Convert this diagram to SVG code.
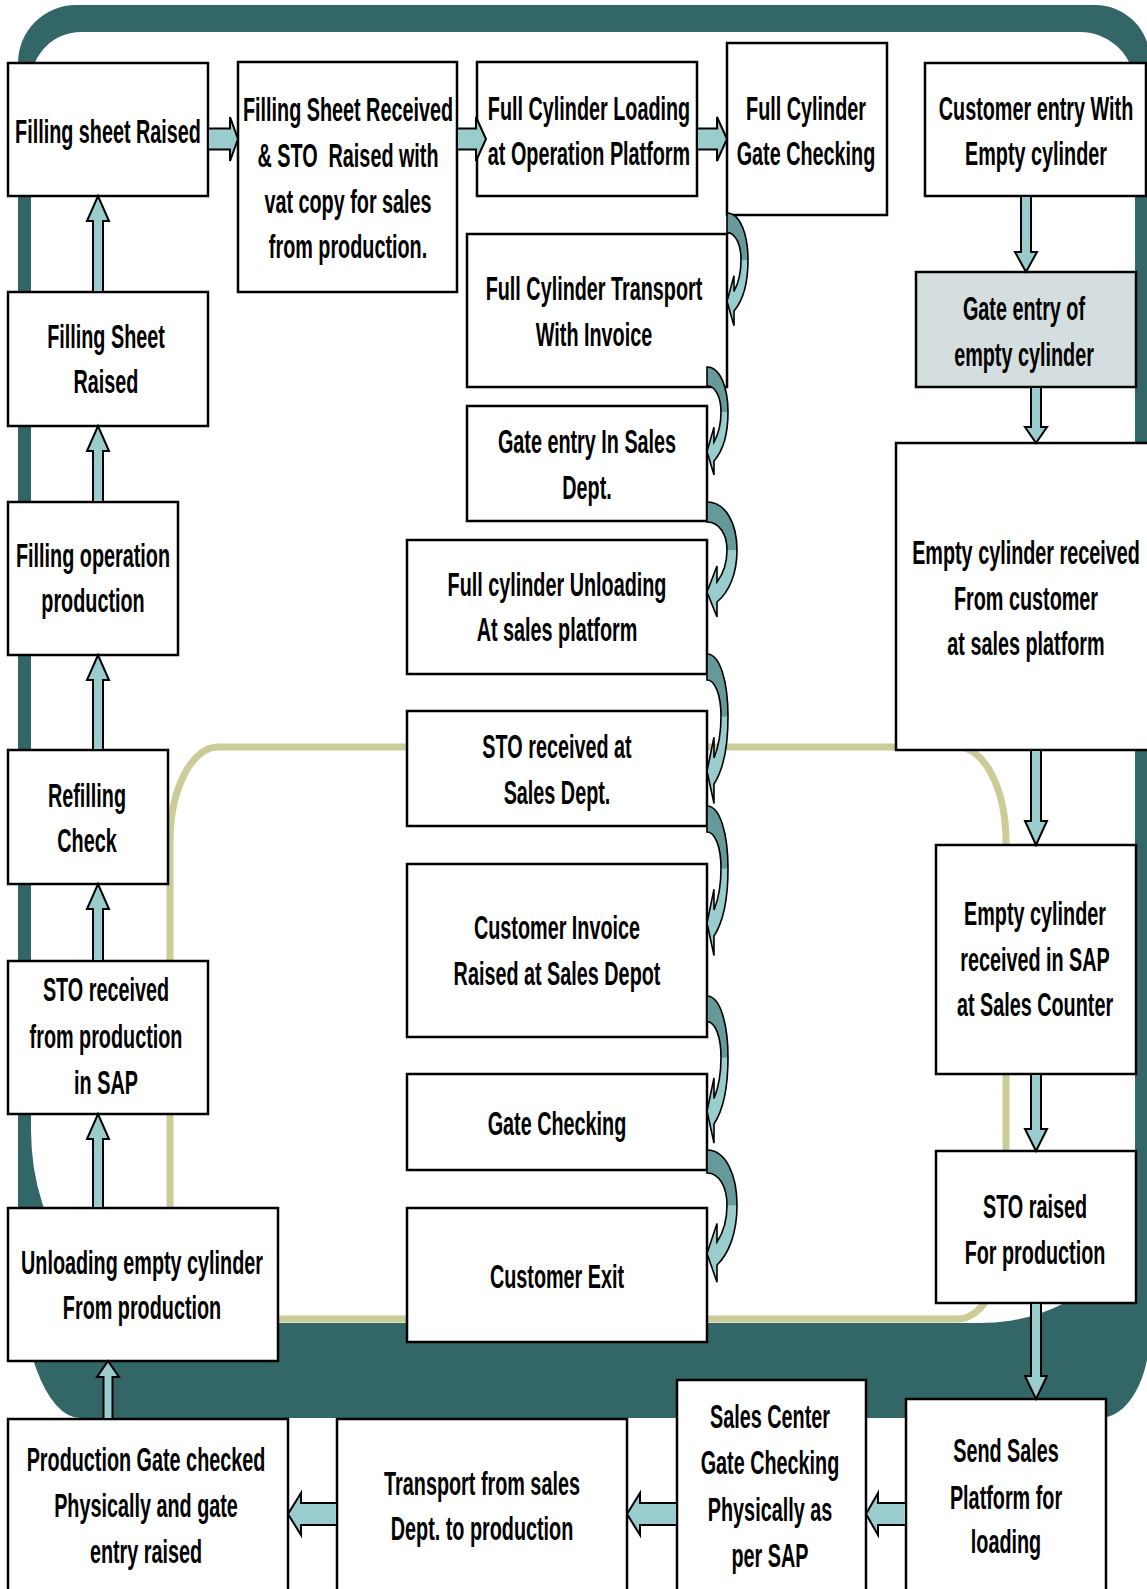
<svg xmlns="http://www.w3.org/2000/svg" xmlns:xlink="http://www.w3.org/1999/xlink" width="1147" height="1589" viewBox="0 0 1147 1589">
<style>
.box{fill:#ffffff;stroke:#000000;stroke-width:2.5}
.gray{fill:#d5dede}
.t{font-family:"Liberation Sans",Arial,sans-serif;font-weight:bold;font-size:33px;fill:#000000;text-anchor:middle}
.ar{fill:#99cccc;stroke:#000000;stroke-width:2;stroke-linejoin:miter}
.cl{fill:#99cccc;stroke:none}
.cd{fill:#669999;stroke:none}
.co{fill:none;stroke:#000000;stroke-width:1.6;stroke-linejoin:miter;vector-effect:non-scaling-stroke}
</style>
<defs>
<g id="ca">
<path class="cl" d="M0,0 C19,0 30,22 30,48 C30,72 22,90 10,100 L10,115 L0,90 L10,64 L10,80 C16,72 20,60 20,48 C20,32 12,20 0,20 Z"/>
<path class="cd" d="M0,0 C19,0 30,22 30,48 L20,48 C20,32 12,20 0,20 Z"/>
<path class="co" d="M0,0 C19,0 30,22 30,48 C30,72 22,90 10,100 L10,115 L0,90 L10,64 L10,80 C16,72 20,60 20,48 C20,32 12,20 0,20 Z"/>
</g>
</defs>
<rect width="1147" height="1589" fill="#ffffff"/>
<g id="background">
<path fill="#336666" fill-rule="evenodd" d="M18,63 A58,58 0 0 1 76,5 L1095,5 A55,55 0 0 1 1150,60 L1150,1330 A50,88 0 0 1 1100,1418 L80,1418 A62,168 0 0 1 18,1250 Z M31,82 A50,50 0 0 1 81,32 L1080,32 A55,55 0 0 1 1135,87 L1135,1200 A155,123 0 0 1 980,1323 L181,1323 A150,193 0 0 1 31,1130 Z"/>
<rect x="170" y="747" width="836" height="572" rx="48" ry="95" fill="none" stroke="#cccc99" stroke-width="7"/>
</g>
<g id="nodes">
<g id="n1"><rect class="box" x="8" y="63" width="200" height="133"/><text class="t" transform="translate(108 0) scale(0.6 1)"><tspan x="0" y="143">Filling sheet Raised</tspan></text></g>
<g id="n2"><rect class="box" x="238" y="62" width="219" height="230"/><text class="t" transform="translate(348 0) scale(0.6 1)" xml:space="preserve"><tspan x="0" y="121">Filling Sheet Received</tspan><tspan x="0" y="167">&amp; STO  Raised with</tspan><tspan x="0" y="213">vat copy for sales</tspan><tspan x="0" y="258">from production.</tspan></text></g>
<g id="n3"><rect class="box" x="477" y="62" width="220" height="134"/><text class="t" transform="translate(589 0) scale(0.6 1)"><tspan x="0" y="120">Full Cylinder Loading</tspan><tspan x="0" y="165">at Operation Platform</tspan></text></g>
<g id="n4"><rect class="box" x="727" y="43" width="160" height="172"/><text class="t" transform="translate(806 0) scale(0.6 1)"><tspan x="0" y="120">Full Cylinder</tspan><tspan x="0" y="165">Gate Checking</tspan></text></g>
<g id="n5"><rect class="box" x="925" y="63" width="221" height="133"/><text class="t" transform="translate(1036 0) scale(0.6 1)"><tspan x="0" y="120">Customer entry With</tspan><tspan x="0" y="165">Empty cylinder</tspan></text></g>
<g id="n6"><rect class="box gray" x="916" y="272" width="220" height="115"/><text class="t" transform="translate(1024 0) scale(0.6 1)"><tspan x="0" y="320">Gate entry of</tspan><tspan x="0" y="366">empty cylinder</tspan></text></g>
<g id="n7"><rect class="box" x="896" y="443" width="260" height="307"/><text class="t" transform="translate(1026 0) scale(0.6 1)"><tspan x="0" y="564">Empty cylinder received</tspan><tspan x="0" y="610">From customer</tspan><tspan x="0" y="655">at sales platform</tspan></text></g>
<g id="n8"><rect class="box" x="936" y="845" width="200" height="229"/><text class="t" transform="translate(1035 0) scale(0.6 1)"><tspan x="0" y="925">Empty cylinder</tspan><tspan x="0" y="971">received in SAP</tspan><tspan x="0" y="1016">at Sales Counter</tspan></text></g>
<g id="n9"><rect class="box" x="936" y="1151" width="200" height="152"/><text class="t" transform="translate(1035 0) scale(0.6 1)"><tspan x="0" y="1218">STO raised</tspan><tspan x="0" y="1264">For production</tspan></text></g>
<g id="n10"><rect class="box" x="906" y="1399" width="200" height="210"/><text class="t" transform="translate(1006 0) scale(0.6 1)"><tspan x="0" y="1462">Send Sales</tspan><tspan x="0" y="1509">Platform for</tspan><tspan x="0" y="1553">loading</tspan></text></g>
<g id="n11"><rect class="box" x="677" y="1380" width="189" height="229"/><text class="t" transform="translate(770 0) scale(0.6 1)"><tspan x="0" y="1428">Sales Center</tspan><tspan x="0" y="1474">Gate Checking</tspan><tspan x="0" y="1521">Physically as</tspan><tspan x="0" y="1567">per SAP</tspan></text></g>
<g id="n12"><rect class="box" x="337" y="1419" width="290" height="190"/><text class="t" transform="translate(482 0) scale(0.6 1)"><tspan x="0" y="1495">Transport from sales</tspan><tspan x="0" y="1540">Dept. to production</tspan></text></g>
<g id="n13"><rect class="box" x="8" y="1419" width="280" height="190"/><text class="t" transform="translate(146 0) scale(0.6 1)"><tspan x="0" y="1471">Production Gate checked</tspan><tspan x="0" y="1517">Physically and gate</tspan><tspan x="0" y="1563">entry raised</tspan></text></g>
<g id="n14"><rect class="box" x="8" y="1208" width="270" height="153"/><text class="t" transform="translate(142 0) scale(0.6 1)"><tspan x="0" y="1274">Unloading empty cylinder</tspan><tspan x="0" y="1319">From production</tspan></text></g>
<g id="n15"><rect class="box" x="8" y="961" width="200" height="153"/><text class="t" transform="translate(106 0) scale(0.6 1)"><tspan x="0" y="1001">STO received</tspan><tspan x="0" y="1048">from production</tspan><tspan x="0" y="1094">in SAP</tspan></text></g>
<g id="n16"><rect class="box" x="8" y="750" width="160" height="134"/><text class="t" transform="translate(87 0) scale(0.6 1)"><tspan x="0" y="807">Refilling</tspan><tspan x="0" y="852">Check</tspan></text></g>
<g id="n17"><rect class="box" x="8" y="502" width="170" height="153"/><text class="t" transform="translate(93 0) scale(0.6 1)"><tspan x="0" y="567">Filling operation</tspan><tspan x="0" y="612">production</tspan></text></g>
<g id="n18"><rect class="box" x="8" y="292" width="200" height="134"/><text class="t" transform="translate(106 0) scale(0.6 1)"><tspan x="0" y="348">Filling Sheet</tspan><tspan x="0" y="393">Raised</tspan></text></g>
<g id="n19"><rect class="box" x="467" y="234" width="260" height="153"/><text class="t" transform="translate(594 0) scale(0.6 1)"><tspan x="0" y="300">Full Cylinder Transport</tspan><tspan x="0" y="346">With Invoice</tspan></text></g>
<g id="n20"><rect class="box" x="467" y="406" width="240" height="115"/><text class="t" transform="translate(587 0) scale(0.6 1)"><tspan x="0" y="453">Gate entry In Sales</tspan><tspan x="0" y="499">Dept.</tspan></text></g>
<g id="n21"><rect class="box" x="407" y="540" width="300" height="134"/><text class="t" transform="translate(557 0) scale(0.6 1)"><tspan x="0" y="596">Full cylinder Unloading</tspan><tspan x="0" y="641">At sales platform</tspan></text></g>
<g id="n22"><rect class="box" x="407" y="711" width="300" height="115"/><text class="t" transform="translate(557 0) scale(0.6 1)"><tspan x="0" y="758">STO received at</tspan><tspan x="0" y="804">Sales Dept.</tspan></text></g>
<g id="n23"><rect class="box" x="407" y="864" width="300" height="173"/><text class="t" transform="translate(557 0) scale(0.6 1)"><tspan x="0" y="939">Customer Invoice</tspan><tspan x="0" y="985">Raised at Sales Depot</tspan></text></g>
<g id="n24"><rect class="box" x="407" y="1074" width="300" height="96"/><text class="t" transform="translate(557 0) scale(0.6 1)"><tspan x="0" y="1135">Gate Checking</tspan></text></g>
<g id="n25"><rect class="box" x="407" y="1208" width="300" height="134"/><text class="t" transform="translate(557 0) scale(0.6 1)"><tspan x="0" y="1288">Customer Exit</tspan></text></g>
</g>
<g id="connectors">
<polygon class="ar" points="93,292 93,221 87,221 98,196 109,221 103,221 103,292"/>
<polygon class="ar" points="93,502 93,451 87,451 98,426 109,451 103,451 103,502"/>
<polygon class="ar" points="93,750 93,680 87,680 98,655 109,680 103,680 103,750"/>
<polygon class="ar" points="93,961 93,909 87,909 98,884 109,909 103,909 103,961"/>
<polygon class="ar" points="93,1208 93,1139 87,1139 98,1114 109,1139 103,1139 103,1208"/>
<polygon class="ar" points="103.5,1419 103.5,1377 97,1377 108,1361 119,1377 112.5,1377 112.5,1419"/>
<polygon class="ar" points="208,128.5 230,128.5 230,117 238,139 230,161 230,149.5 208,149.5"/>
<polygon class="ar" points="457,128.5 476,128.5 476,117 486,139 476,161 476,149.5 457,149.5"/>
<polygon class="ar" points="697,128.5 717,128.5 717,117 727,139 717,161 717,149.5 697,149.5"/>
<polygon class="ar" points="1021,196 1021,252 1015,252 1026,272 1037,252 1031,252 1031,196"/>
<polygon class="ar" points="1031,387 1031,427 1025,427 1036,443 1047,427 1041,427 1041,387"/>
<polygon class="ar" points="1031,750 1031,821 1025,821 1036,845 1047,821 1041,821 1041,750"/>
<polygon class="ar" points="1031,1074 1031,1129 1025,1129 1036,1151 1047,1129 1041,1129 1041,1074"/>
<polygon class="ar" points="1031,1303 1031,1376 1025,1376 1036,1399 1047,1376 1041,1376 1041,1303"/>
<polygon class="ar" points="906,1503 878,1503 878,1493 866,1514 878,1535 878,1525 906,1525"/>
<polygon class="ar" points="677,1503 640,1503 640,1493 627,1514 640,1535 640,1525 677,1525"/>
<polygon class="ar" points="337,1503 301,1503 301,1493 288,1514 301,1535 301,1525 337,1525"/>
<use xlink:href="#ca" transform="translate(727 213) scale(0.7 0.98)"/>
<use xlink:href="#ca" transform="translate(707 367) scale(0.7 0.94)"/>
<use xlink:href="#ca" transform="translate(707 502) scale(1 1)"/>
<use xlink:href="#ca" transform="translate(707 654) scale(0.7 1.3)"/>
<use xlink:href="#ca" transform="translate(707 806) scale(0.7 1.3)"/>
<use xlink:href="#ca" transform="translate(707 996) scale(0.7 1.28)"/>
<use xlink:href="#ca" transform="translate(707 1150) scale(1 1.15)"/>
</g>
</svg>
